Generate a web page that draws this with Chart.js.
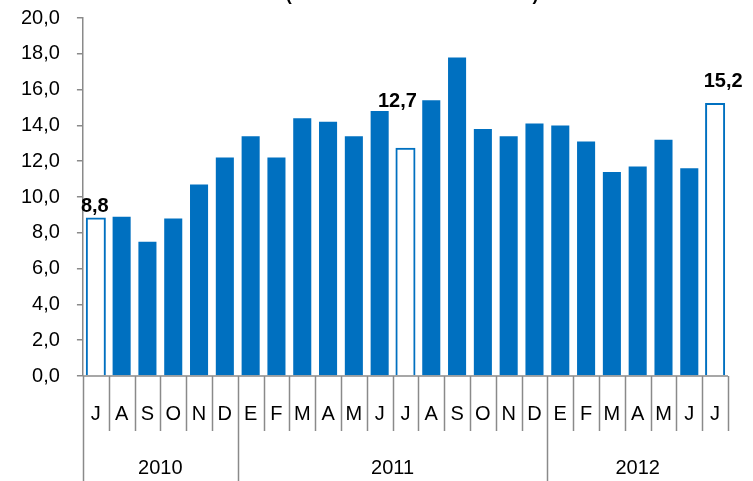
<!DOCTYPE html>
<html>
<head>
<meta charset="utf-8">
<script src="https://cdn.jsdelivr.net/npm/chart.js@4.4.1/dist/chart.umd.min.js"></script>
<style>
  html, body { margin: 0; padding: 0; background: #fff; overflow: hidden; }
  #wrap { position: relative; width: 753px; height: 481px; }
</style>
</head>
<body>
<div id="wrap"><canvas id="c"></canvas></div>
<script>
// ---- data ----
const months = ['J','A','S','O','N','D','E','F','M','A','M','J','J','A','S','O','N','D','E','F','M','A','M','J','J'];
const years = ['2010','2011','2012'];
const yearStarts = [0, 6, 18];   // index of first month of each year
const values = [8.8, 8.9, 7.5, 8.8, 10.7, 12.2, 13.4, 12.2, 14.4, 14.2, 13.4, 14.8, 12.7, 15.4, 17.8, 13.8, 13.4, 14.1, 14.0, 13.1, 11.4, 11.7, 13.2, 11.6, 15.2];
const highlighted = [0, 12, 24];  // July bars shown hollow and labelled
const yTicks = [0, 2, 4, 6, 8, 10, 12, 14, 16, 18, 20];
const titleText = '(Tasa de variación interanual)';

const BLUE = '#0070C0';
const GRAY = '#8a8a8a';
const FONT = '"Liberation Sans", Arial, sans-serif';
const fmt = v => v.toFixed(1).replace('.', ',');

// label placement tweaks (gap above bar top, horizontal shift)
const labelPlace = { 0: { dy: 6, dx: -1 }, 12: { dy: 42, dx: -8 }, 24: { dy: 17, dx: 8 } };

const decor = {
  id: 'decor',
  afterDraw(chart) {
    const ctx = chart.ctx;
    const x = chart.scales.x;
    const ca = chart.chartArea;
    const n = months.length;
    const w = (ca.right - ca.left) / n;
    ctx.save();
    // title (clipped at top of picture)
    ctx.fillStyle = '#000';
    ctx.font = 'bold 18px ' + FONT;
    ctx.textAlign = 'center';
    ctx.textBaseline = 'alphabetic';
    ctx.fillText(titleText, 412, 0);

    // bottom axis line
    ctx.strokeStyle = GRAY;
    ctx.lineWidth = 1.5;
    ctx.beginPath();
    ctx.moveTo(ca.left, ca.bottom);
    ctx.lineTo(ca.right, ca.bottom);
    ctx.stroke();

    // separators
    for (let i = 0; i <= n; i++) {
      const px = Math.round(x.getPixelForValue(i) - w / 2) + 0.5;
      const full = yearStarts.includes(i) && i !== n;
      ctx.beginPath();
      ctx.moveTo(px, ca.bottom);
      ctx.lineTo(px, full ? 481 : ca.bottom + 55);
      ctx.stroke();
    }

    // month labels
    ctx.fillStyle = '#000';
    ctx.font = '20px ' + FONT;
    ctx.textBaseline = 'middle';
    months.forEach((m, i) => {
      ctx.fillText(m, x.getPixelForValue(i), ca.bottom + 38);
    });
    // year labels
    years.forEach((yv, k) => {
      const s = yearStarts[k];
      const e = k + 1 < yearStarts.length ? yearStarts[k + 1] : n;
      const cx = (x.getPixelForValue(s) + x.getPixelForValue(e - 1)) / 2;
      ctx.fillText(yv, cx, ca.bottom + 92);
    });

    // data labels
    const meta = chart.getDatasetMeta(0);
    ctx.font = 'bold 20px ' + FONT;
    ctx.textBaseline = 'alphabetic';
    highlighted.forEach(i => {
      const bar = meta.data[i];
      const p = labelPlace[i] || { dy: 6, dx: 0 };
      ctx.fillText(fmt(values[i]), bar.x + p.dx, bar.y - p.dy);
    });
    ctx.restore();
  }
};

new Chart(document.getElementById('c'), {
  type: 'bar',
  data: {
    labels: months,
    datasets: [{
      data: values,
      backgroundColor: values.map((v, i) => highlighted.includes(i) ? '#ffffff' : BLUE),
      borderColor: BLUE,
      borderWidth: values.map((v, i) => highlighted.includes(i) ? 2 : 0),
      inflateAmount: values.map((v, i) => highlighted.includes(i) ? 1 : 0),
      categoryPercentage: 1,
      barPercentage: 0.7
    }]
  },
  options: {
    responsive: true,
    maintainAspectRatio: false,
    animation: false,
    layout: { padding: { left: 4, right: 25, top: 18, bottom: 105 } },
    plugins: { legend: { display: false }, tooltip: { enabled: false }, title: { display: false } },
    scales: {
      x: { display: false },
      y: {
        min: 0, max: 20,
        afterBuildTicks: s => { s.ticks = yTicks.map(v => ({ value: v })); },
        afterFit: s => { s.paddingTop = 0; s.paddingBottom = 0; },
        ticks: {
          color: '#000',
          font: { family: FONT, size: 20 },
          padding: 17,
          callback: v => fmt(v)
        },
        grid: { drawOnChartArea: false, drawTicks: true, tickLength: 6, color: GRAY, lineWidth: 1.5 },
        border: { display: true, color: GRAY, width: 1.5 }
      }
    }
  },
  plugins: [decor]
});
</script>
</body>
</html>
